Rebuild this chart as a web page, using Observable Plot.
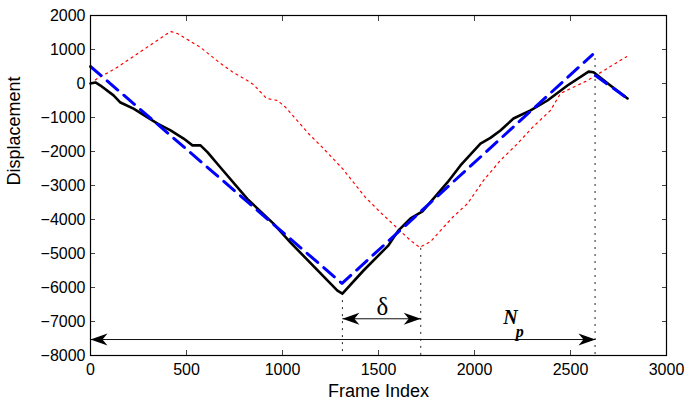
<!DOCTYPE html>
<html>
<head>
<meta charset="utf-8">
<script src="https://cdn.jsdelivr.net/npm/d3@7"></script>
<script src="https://cdn.jsdelivr.net/npm/@observablehq/plot@0.6"></script>
<style>
  html, body { margin: 0; padding: 0; background: #fff; }
  #chart { width: 684px; height: 402px; }
</style>
</head>
<body>
<div id="chart"></div>
<script>
// Measured (black) displacement
const measuredFrames = [0, 26, 52, 120, 156, 224, 349, 417, 485, 531, 573, 609, 677, 818, 953, 1042, 1286, 1312, 1422, 1552, 1604, 1667, 1729, 1859, 1927, 2031, 2083, 2135, 2203, 2292, 2380, 2484, 2594, 2620, 2708, 2797];
const measuredDisp   = [0, 30, -60, -350, -560, -740, -1180, -1380, -1620, -1820, -1820, -2020, -2470, -3400, -4120, -4680, -6090, -6180, -5500, -4760, -4320, -3970, -3760, -2910, -2410, -1770, -1600, -1380, -1030, -790, -500, -60, 350, 330, -60, -440];

// Fitted (blue dashed) model, two pieces
const fitFrames  = [0, 1310, 2615];
const fitDisp    = [500, -5880, 850];
const fit2Frames = [2630, 2797];
const fit2Disp   = [235, -440];

// Shifted (red dotted) curve
const shiftFrames = [0, 36, 130, 417, 453, 573, 677, 745, 807, 849, 917, 974, 1016, 1135, 1213, 1312, 1432, 1510, 1667, 1715, 1771, 1885, 1964, 2047, 2135, 2224, 2302, 2396, 2448, 2589, 2656, 2792];
const shiftDisp   = [0, 150, 440, 1530, 1470, 1060, 590, 320, 120, -30, -440, -500, -700, -1470, -1910, -2500, -3350, -3790, -4620, -4820, -4650, -3940, -3530, -2850, -2260, -1770, -1290, -790, -290, 90, 320, 790];

// Vertical dotted guides
const guideX   = [1312, 1720, 2628];
const guideTop = [-6180, -4850, 735];

// Annotation arrows
const arrowX1 = [1312, 0];
const arrowX2 = [1720, 2630];
const arrowY  = [-6920, -7530];

// Axis ticks
const xTicks = [0, 500, 1000, 1500, 2000, 2500, 3000];
const yTicks = [2000, 1000, 0, -1000, -2000, -3000, -4000, -5000, -6000, -7000, -8000];

const zip = (xs, ys) => xs.map((x, i) => ({x, y: ys[i]}));
const measured = zip(measuredFrames, measuredDisp);
const fit1 = zip(fitFrames, fitDisp);
const fit2 = zip(fit2Frames, fit2Disp);
const shifted = zip(shiftFrames, shiftDisp);
const guides = guideX.map((x, i) => ({x, y1: guideTop[i]}));
const arrows = arrowX1.map((x1, i) => ({x1, x2: arrowX2[i], y: arrowY[i]}));
const fmt = d3.format("d");

const plot = Plot.plot({
  width: 684,
  height: 402,
  marginLeft: 90,
  marginRight: 18,
  marginTop: 15,
  marginBottom: 47,
  style: {fontFamily: "'Liberation Sans', Arial, sans-serif", fontSize: "16px", color: "black", background: "white"},
  x: {domain: [0, 3000]},
  y: {domain: [-8000, 2000]},
  marks: [
    // tick labels
    Plot.axisX(xTicks, {anchor: "bottom", tickSize: 0, tickPadding: 8, label: null, fontSize: 16, tickFormat: fmt}),
    Plot.axisY(yTicks, {anchor: "left", tickSize: 0, tickPadding: 5, label: null, fontSize: 16, tickFormat: fmt}),
    // inward ticks on all sides
    Plot.axisX(xTicks, {anchor: "bottom", tickSize: -5, fill: "none", label: null, stroke: "#444"}),
    Plot.axisX(xTicks, {anchor: "top", tickSize: -5, fill: "none", label: null, stroke: "#444"}),
    Plot.axisY(yTicks, {anchor: "left", tickSize: -5, fill: "none", label: null, stroke: "#444"}),
    Plot.axisY(yTicks, {anchor: "right", tickSize: -5, fill: "none", label: null, stroke: "#444"}),
    // guides
    Plot.ruleX(guides, {x: "x", y1: "y1", y2: -8000, stroke: "#222", strokeWidth: 1, strokeDasharray: "2,5"}),
    // curves
    Plot.line(shifted, {x: "x", y: "y", stroke: "#ff0000", strokeWidth: 1.2, strokeDasharray: "2,4"}),
    Plot.line(measured, {x: "x", y: "y", stroke: "black", strokeWidth: 2.6}),
    Plot.line(fit1, {x: "x", y: "y", stroke: "#0000ff", strokeWidth: 3, strokeDasharray: "14,8"}),
    Plot.line(fit2, {x: "x", y: "y", stroke: "#0000ff", strokeWidth: 3, strokeDasharray: "14,8"}),
    // arrows
    Plot.link(arrows, {x1: "x1", x2: "x2", y1: "y", y2: "y", stroke: "#111", strokeWidth: 1}),
    // annotations
    Plot.text(["δ"], {x: 1520, y: -6560, text: d => d, fontFamily: "'Liberation Serif', 'DejaVu Serif', serif", fontSize: 25}),
    Plot.text(["N"], {x: 2187, y: -6880, text: d => d, fontFamily: "'Liberation Serif', serif", fontSize: 20, fontWeight: "bold", fontStyle: "italic"}),
    Plot.text(["p"], {x: 2236, y: -7300, text: d => d, fontFamily: "'Liberation Serif', serif", fontSize: 16, fontWeight: "bold", fontStyle: "italic"}),
    // axis labels
    Plot.text(["Frame Index"], {frameAnchor: "bottom", dy: 36, lineAnchor: "middle", text: d => d, fontSize: 18}),
    Plot.text(["Displacement"], {frameAnchor: "left", dx: -76, lineAnchor: "middle", rotate: -90, text: d => d, fontSize: 18}),
    Plot.frame({stroke: "black", strokeWidth: 1.2})
  ]
});

// Filled dart arrowheads
const svg = d3.select(plot);
const defs = svg.insert("defs", ":first-child");
defs.append("marker")
  .attr("id", "dart")
  .attr("viewBox", "-20 -8 22 16")
  .attr("markerWidth", 22)
  .attr("markerHeight", 16)
  .attr("refX", 0)
  .attr("refY", 0)
  .attr("orient", "auto-start-reverse")
  .attr("markerUnits", "userSpaceOnUse")
  .append("path")
  .attr("d", "M0,0 L-17,-6 L-12,0 L-17,6 Z")
  .attr("fill", "black");
svg.selectAll('g[aria-label="link"] path')
  .attr("marker-start", "url(#dart)")
  .attr("marker-end", "url(#dart)");

document.getElementById("chart").appendChild(plot);
</script>
</body>
</html>
